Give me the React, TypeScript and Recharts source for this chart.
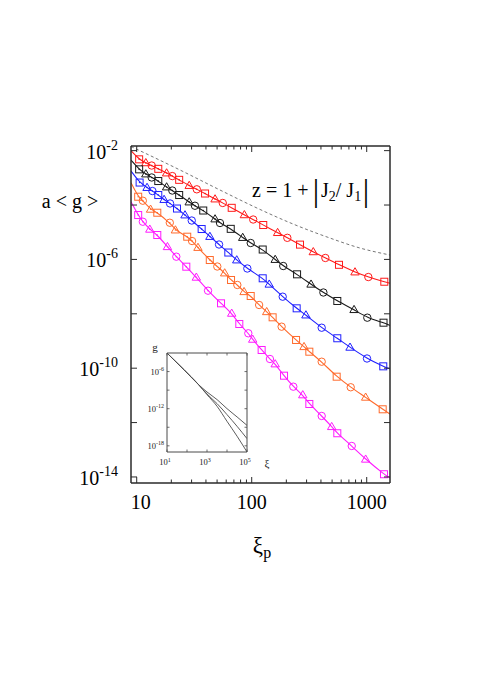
import React from "react";
import { ComposedChart, Line, Scatter, XAxis, YAxis } from "recharts";

const FONT = "'Liberation Serif', 'Times New Roman', Times, serif";

// ---------- main axes ----------
const xDomain = [8.92, 1594];
const yDomain = [6e-15, 0.0148];
const xMajorTicks = [10, 100, 1000];
const xMinorTicks = [20, 30, 40, 50, 60, 70, 80, 90, 200, 300, 400, 500, 600, 700, 800, 900];
const yMajorTicks = [1e-2, 1e-4, 1e-6, 1e-8, 1e-10, 1e-12, 1e-14];
const yLabelledTicks = [1e-2, 1e-6, 1e-10, 1e-14];
const yTickExponents = ["-2", "-6", "-10", "-14"];

// ---------- series (ξp, a<g>) ----------
const redX = [10.5, 12.0, 13.5, 15.4, 18.2, 20.4, 23.4, 28.6, 33.3, 39.3, 48.0, 56.0, 67.0, 86.3, 103, 126, 168, 204, 263, 343, 437, 574, 791, 1033, 1422];
const redY = [4.79e-3, 3.56e-3, 2.83e-3, 2.14e-3, 1.5e-3, 1.16e-3, 8.43e-4, 5.21e-4, 3.78e-4, 2.65e-4, 1.66e-4, 1.19e-4, 7.89e-5, 4.36e-5, 2.93e-5, 1.84e-5, 9.66e-6, 6.22e-6, 3.5e-6, 1.9e-6, 1.13e-6, 6.33e-7, 3.44e-7, 2.25e-7, 1.51e-7];
const redM = "stcstcstcstcstcstcstcstcs";
const redEnds = [9.9e-3, 1.32e-7];

const blackX = [10.5, 12.0, 13.5, 15.4, 18.2, 20.4, 23.4, 28.6, 32.1, 37.9, 48.0, 53.0, 65.7, 83.5, 98.0, 124.6, 160, 188, 248, 328, 420, 555, 776, 1012, 1400];
const blackY = [2.05e-3, 1.38e-3, 1.03e-3, 7.62e-4, 4.59e-4, 3.41e-4, 2.33e-4, 1.29e-4, 9.4e-5, 6.28e-5, 3.06e-5, 2.18e-5, 1.33e-5, 6.38e-6, 4.01e-6, 2.31e-6, 9.9e-7, 5.72e-7, 2.83e-7, 1.22e-7, 6.07e-8, 2.96e-8, 1.42e-8, 7.2e-9, 4.71e-9];
const blackM = "stcstcstcstcstcstcstcstcs";
const blackEnds = [4.5e-3, 3.7e-9];

const blueX = [10.6, 12.3, 13.7, 15.4, 17.3, 19.5, 22.4, 26.3, 30.1, 36.7, 43.3, 52.0, 62.6, 74.1, 91.6, 124.6, 142, 186, 246, 296, 406, 555, 716, 1006, 1393];
const blueY = [6.71e-4, 4.39e-4, 3.27e-4, 2.33e-4, 1.59e-4, 1.14e-4, 7.43e-5, 4.29e-5, 2.69e-5, 1.31e-5, 6.95e-6, 3.53e-6, 1.79e-6, 9.5e-7, 4.63e-7, 2.02e-7, 1.22e-7, 4.26e-8, 1.59e-8, 9.0e-9, 3.08e-9, 1.26e-9, 5.86e-10, 2.27e-10, 1.17e-10];
const blueM = "stcstcstcstcstcstcstcstcs";
const blueEnds = [1.78e-3, 9.3e-11];

const orangeX = [10.3, 11.3, 13.2, 15.1, 19.4, 21.7, 27.5, 30.3, 34.1, 43.2, 50.2, 58.2, 66.1, 75.0, 85.8, 98.0, 116, 135, 152, 182, 243, 285, 317, 406, 548, 726, 979, 1377];
const orangeY = [2.02e-4, 1.44e-4, 6.95e-5, 5.21e-5, 2.23e-5, 1.2e-5, 6.84e-6, 4.74e-6, 2.74e-6, 9.5e-7, 5.48e-7, 3.16e-7, 1.75e-7, 1.15e-7, 6.49e-8, 4.51e-8, 2.11e-8, 1.19e-8, 7.43e-9, 3.36e-9, 1.09e-9, 6.17e-10, 4.04e-10, 1.73e-10, 4.87e-11, 1.99e-11, 8.5e-12, 3.08e-12];
const orangeM = "sctsctsctsctsctsctscstscscts";
const orangeEnds = [6.6e-4, 2.07e-12];

const magentaX = [10.3, 11.3, 13.0, 15.1, 18.5, 22.1, 27.0, 33.0, 41.7, 54.1, 67.0, 78.0, 93.4, 102, 122, 144, 160, 191, 230, 278, 317, 406, 496, 555, 741, 979, 1413];
const magentaY = [4.28e-5, 2.43e-5, 1.28e-5, 7.89e-6, 2.93e-6, 1.26e-6, 5.4e-7, 2.2e-7, 7.07e-8, 2.43e-8, 1.04e-8, 4.22e-9, 1.92e-9, 1.15e-9, 4.67e-10, 2.18e-10, 1.43e-10, 5.3e-11, 2.09e-11, 1.04e-11, 4.83e-12, 1.75e-12, 7.07e-13, 4.05e-13, 1.38e-13, 4.48e-14, 1.26e-14];
const magentaM = "sctstcstcstsctsctsctsctscts";
const magentaEnds = [1.32e-4, 9.2e-15];

// dashed upper curve
const boundX = [8.92, 23.8, 53.0, 111, 229, 452, 874, 1594];
const boundY = [1.42e-2, 1.94e-3, 3.56e-4, 7.76e-5, 2.0e-5, 6.67e-6, 2.62e-6, 1.45e-6];

// ---------- inset ----------
const insetXDomain = [10, 1e5];
const insetYDomain = [1e-19, 1e-3];
const insetX = [10, 70, 380, 1000, 3200, 10000, 32000, 100000];
const insetG1 = [1e-3, 2.04e-6, 7.6e-9, 5.0e-10, 2.9e-11, 1.02e-12, 4.6e-14, 2.0e-15];
const insetG2 = [1e-3, 2.04e-6, 7.6e-9, 2.4e-10, 6.5e-12, 1.1e-13, 1.4e-15, 1.45e-17];
const insetG3 = [1e-3, 2.04e-6, 7.6e-9, 1.86e-10, 2.4e-12, 9.1e-15, 3.5e-17, 1.0e-19];
const insetXTicks = [10, 100, 1000, 10000, 100000];
const insetXLabelled = [10, 1000, 100000];
const insetXExponents = ["1", "3", "5"];
const insetYTicks = [1e-6, 1e-9, 1e-12, 1e-15, 1e-18];
const insetYLabelled = [1e-6, 1e-12, 1e-18];
const insetYExponents = ["-6", "-12", "-18"];

type Pt = { x: number; y: number; m?: string };
const toPts = (xs: number[], ys: number[], ms: string): Pt[] =>
  xs.map((x, i) => ({ x, y: ys[i], m: ms[i] }));
const toLine = (xs: number[], ys: number[], ends: number[]): Pt[] => [
  { x: xDomain[0], y: ends[0] },
  ...xs.map((x, i) => ({ x, y: ys[i] })),
  { x: xDomain[1], y: ends[1] },
];
const zip = (xs: number[], ys: number[]): Pt[] => xs.map((x, i) => ({ x, y: ys[i] }));

const series = [
  { name: "red", color: "#ff1a1a", xs: redX, ys: redY, ms: redM, ends: redEnds },
  { name: "black", color: "#1a1a1a", xs: blackX, ys: blackY, ms: blackM, ends: blackEnds },
  { name: "blue", color: "#1f1fff", xs: blueX, ys: blueY, ms: blueM, ends: blueEnds },
  { name: "orange", color: "#ff6a2c", xs: orangeX, ys: orangeY, ms: orangeM, ends: orangeEnds },
  { name: "magenta", color: "#ff1aff", xs: magentaX, ys: magentaY, ms: magentaM, ends: magentaEnds },
];

const FRAME = "#2a2a2a";

const Marker = (props: any) => {
  const { cx, cy, payload, color } = props;
  if (cx == null || cy == null || !payload) return null;
  const dot = payload.x < 50 ? <circle cx={cx} cy={cy} r={0.8} fill={color} /> : null;
  let body;
  if (payload.m === "s") {
    body = <rect x={cx - 3.5} y={cy - 3.5} width={7} height={7} fill="none" stroke={color} strokeWidth={1} />;
  } else if (payload.m === "c") {
    body = <circle cx={cx} cy={cy} r={3.7} fill="none" stroke={color} strokeWidth={1} />;
  } else {
    body = (
      <polygon
        points={`${cx},${cy - 4.3} ${cx - 4.2},${cy + 2.9} ${cx + 4.2},${cy + 2.9}`}
        fill="none"
        stroke={color}
        strokeWidth={1}
      />
    );
  }
  return (
    <g>
      {body}
      {dot}
    </g>
  );
};

const BottomTick = (p: any) => {
  const v = p.payload.value;
  const major = xMajorTicks.indexOf(v) >= 0;
  const len = major ? 6 : 3.5;
  const dx = v === 10 ? 4 : 0;
  return (
    <g>
      <line x1={p.x} y1={p.y} x2={p.x} y2={p.y - len} stroke={FRAME} strokeWidth={1} />
      {major && (
        <text x={p.x + dx} y={p.y + 26} textAnchor="middle" fontFamily={FONT} fontSize={20} fill="#000">
          {String(v)}
        </text>
      )}
    </g>
  );
};

const TopTick = (p: any) => {
  const v = p.payload.value;
  const major = xMajorTicks.indexOf(v) >= 0;
  const len = major ? 6 : 3.5;
  return <line x1={p.x} y1={p.y} x2={p.x} y2={p.y + len} stroke={FRAME} strokeWidth={1} />;
};

const LeftTick = (p: any) => {
  const v = p.payload.value;
  const li = yLabelledTicks.indexOf(v);
  return (
    <g>
      <line x1={p.x} y1={p.y} x2={p.x + 6} y2={p.y} stroke={FRAME} strokeWidth={1} />
      {li >= 0 && (
        <text x={118} y={p.y + 8} textAnchor="end" fontFamily={FONT} fontSize={20} fill="#000">
          10
          <tspan dy={-9} fontSize={14}>
            {yTickExponents[li]}
          </tspan>
        </text>
      )}
    </g>
  );
};

const RightTick = (p: any) => (
  <line x1={p.x} y1={p.y} x2={p.x - 6} y2={p.y} stroke={FRAME} strokeWidth={1} />
);

const INSET = "#4a4a4a";

const InsetBottomTick = (p: any) => {
  const v = p.payload.value;
  const li = insetXLabelled.indexOf(v);
  return (
    <g>
      <line x1={p.x} y1={p.y} x2={p.x} y2={p.y - 2.5} stroke={INSET} strokeWidth={0.8} />
      {li >= 0 && (
        <text x={p.x - 2} y={p.y + 13} textAnchor="middle" fontFamily={FONT} fontSize={8.5} fill="#222">
          10
          <tspan dy={-3.5} fontSize={6}>
            {insetXExponents[li]}
          </tspan>
        </text>
      )}
    </g>
  );
};
const InsetTopTick = (p: any) => (
  <line x1={p.x} y1={p.y} x2={p.x} y2={p.y + 2.5} stroke={INSET} strokeWidth={0.8} />
);
const InsetLeftTick = (p: any) => {
  const v = p.payload.value;
  const li = insetYLabelled.indexOf(v);
  return (
    <g>
      <line x1={p.x} y1={p.y} x2={p.x + 2.5} y2={p.y} stroke={INSET} strokeWidth={0.8} />
      {li >= 0 && (
        <text x={p.x - 3} y={p.y + 3} textAnchor="end" fontFamily={FONT} fontSize={8.5} fill="#222">
          10
          <tspan dy={-3.5} fontSize={6}>
            {insetYExponents[li]}
          </tspan>
        </text>
      )}
    </g>
  );
};
const InsetRightTick = (p: any) => (
  <line x1={p.x} y1={p.y} x2={p.x - 2.5} y2={p.y} stroke={INSET} strokeWidth={0.8} />
);

const xAllTicks = [...xMajorTicks, ...xMinorTicks].sort((a, b) => a - b);

const axisCommon = {
  type: "number" as const,
  scale: "log" as const,
  allowDataOverflow: true,
  interval: 0 as const,
  tickSize: 0,
  tickMargin: 0,
  tickLine: false,
};

export default function App() {
  return (
    <div style={{ position: "absolute", left: 0, top: 0, width: 478, height: 676, background: "#fff" }}>
      <div style={{ position: "absolute", left: 0, top: 0 }}>
        <ComposedChart width={478} height={676} margin={{ top: 145, right: 87, bottom: 133, left: 0 }}>
          <XAxis
            {...axisCommon}
            xAxisId="b"
            dataKey="x"
            domain={xDomain}
            ticks={xAllTicks}
            height={60}
            axisLine={{ stroke: FRAME, strokeWidth: 1.5 }}
            tick={(p: any) => <BottomTick {...p} />}
          />
          <XAxis
            {...axisCommon}
            xAxisId="t"
            orientation="top"
            dataKey="x"
            domain={xDomain}
            ticks={xAllTicks}
            height={1}
            axisLine={{ stroke: FRAME, strokeWidth: 1.5 }}
            tick={(p: any) => <TopTick {...p} />}
          />
          <YAxis
            {...axisCommon}
            yAxisId="l"
            dataKey="y"
            domain={yDomain}
            ticks={yMajorTicks}
            width={131}
            axisLine={{ stroke: FRAME, strokeWidth: 1.5 }}
            tick={(p: any) => <LeftTick {...p} />}
          />
          <YAxis
            {...axisCommon}
            yAxisId="r"
            orientation="right"
            dataKey="y"
            domain={yDomain}
            ticks={yMajorTicks}
            width={1}
            axisLine={{ stroke: FRAME, strokeWidth: 1.5 }}
            tick={(p: any) => <RightTick {...p} />}
          />
          <Line
            xAxisId="t"
            yAxisId="r"
            data={zip(boundX, boundY)}
            dataKey="y"
            type="monotone"
            stroke="none"
            dot={false}
            activeDot={false}
            isAnimationActive={false}
          />
          <Line
            xAxisId="b"
            yAxisId="l"
            data={zip(boundX, boundY)}
            dataKey="y"
            type="monotone"
            stroke="#666"
            strokeWidth={0.9}
            strokeDasharray="3 2.5"
            dot={false}
            activeDot={false}
            isAnimationActive={false}
          />
          {series.map((s) => (
            <Line
              key={"l" + s.name}
              xAxisId="b"
              yAxisId="l"
              data={toLine(s.xs, s.ys, s.ends)}
              dataKey="y"
              type="basis"
              stroke={s.color}
              strokeWidth={1.1}
              dot={false}
              activeDot={false}
              isAnimationActive={false}
            />
          ))}
          {series.map((s) => (
            <Scatter
              key={"s" + s.name}
              xAxisId="b"
              yAxisId="l"
              data={toPts(s.xs, s.ys, s.ms)}
              dataKey="y"
              isAnimationActive={false}
              shape={(p: any) => <Marker {...p} color={s.color} />}
            />
          ))}
        </ComposedChart>
      </div>

      <div style={{ position: "absolute", left: 0, top: 0 }}>
        <ComposedChart width={478} height={676} margin={{ top: 352, right: 230, bottom: 223, left: 166 }}>
          <XAxis
            {...axisCommon}
            xAxisId="b"
            dataKey="x"
            domain={insetXDomain}
            ticks={insetXTicks}
            height={1}
            axisLine={{ stroke: INSET, strokeWidth: 1 }}
            tick={(p: any) => <InsetBottomTick {...p} />}
          />
          <XAxis
            {...axisCommon}
            xAxisId="t"
            orientation="top"
            dataKey="x"
            domain={insetXDomain}
            ticks={insetXTicks}
            height={1}
            axisLine={{ stroke: INSET, strokeWidth: 1 }}
            tick={(p: any) => <InsetTopTick {...p} />}
          />
          <YAxis
            {...axisCommon}
            yAxisId="l"
            dataKey="y"
            domain={insetYDomain}
            ticks={insetYTicks}
            width={1}
            axisLine={{ stroke: INSET, strokeWidth: 1 }}
            tick={(p: any) => <InsetLeftTick {...p} />}
          />
          <YAxis
            {...axisCommon}
            yAxisId="r"
            orientation="right"
            dataKey="y"
            domain={insetYDomain}
            ticks={insetYTicks}
            width={1}
            axisLine={{ stroke: INSET, strokeWidth: 1 }}
            tick={(p: any) => <InsetRightTick {...p} />}
          />
          <Line
            xAxisId="t"
            yAxisId="r"
            data={zip(insetX, insetG1)}
            dataKey="y"
            type="monotone"
            stroke="none"
            dot={false}
            activeDot={false}
            isAnimationActive={false}
          />
          {[insetG1, insetG2, insetG3].map((g, i) => (
            <Line
              key={"g" + i}
              xAxisId="b"
              yAxisId="l"
              data={zip(insetX, g)}
              dataKey="y"
              type="monotone"
              stroke={INSET}
              strokeWidth={0.9}
              dot={false}
              activeDot={false}
              isAnimationActive={false}
            />
          ))}
        </ComposedChart>
      </div>

      <svg width={478} height={676} style={{ position: "absolute", left: 0, top: 0, pointerEvents: "none" }}>
        <text x={70} y={208} textAnchor="middle" fontFamily={FONT} fontSize={20} fill="#000">
          {"a < g >"}
        </text>
        <text x={262} y={553} textAnchor="middle" fontFamily={FONT} fontSize={23} fill="#000">
          ξ
          <tspan dy={5} fontSize={16}>
            p
          </tspan>
        </text>
        <text x={252} y={197} fontFamily={FONT} fontSize={20} fill="#000">
          z = 1 +
        </text>
        <text x={316} y={201} textAnchor="middle" fontFamily={FONT} fontSize={32} fill="#000">
          |
        </text>
        <text x={321} y={197} fontFamily={FONT} fontSize={20} fill="#000">
          J
          <tspan dy={4} fontSize={14}>
            2
          </tspan>
          <tspan dy={-4}>/ J</tspan>
          <tspan dy={4} fontSize={14}>
            1
          </tspan>
        </text>
        <text x={366} y={201} textAnchor="middle" fontFamily={FONT} fontSize={32} fill="#000">
          |
        </text>
        <text x={155} y={351} textAnchor="middle" fontFamily={FONT} fontSize={11} fill="#222">
          g
        </text>
        <text x={267} y={467} textAnchor="middle" fontFamily={FONT} fontSize={11} fill="#222">
          ξ
        </text>
      </svg>
    </div>
  );
}
